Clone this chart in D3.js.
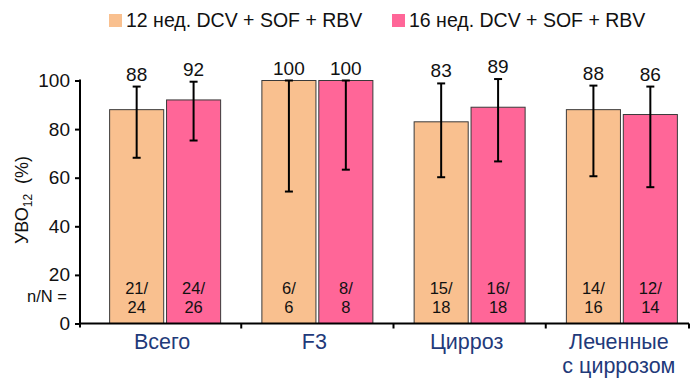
<!DOCTYPE html>
<html>
<head>
<meta charset="utf-8">
<script src="https://cdn.jsdelivr.net/npm/d3@7"></script>
<style>
  html, body { margin: 0; padding: 0; background: #fff; }
  svg { display: block; font-family: "Liberation Sans", Arial, sans-serif; }
</style>
</head>
<body>
<svg id="chart" width="690" height="378"></svg>
<script>
// Категории и серии
const categories = ["Всего", "F3", "Цирроз", "Леченные\nс циррозом"];
const seriesNames = ["12 нед. DCV + SOF + RBV", "16 нед. DCV + SOF + RBV"];
const seriesColors = ["#F9C08F", "#FF6698"];

// УВО12, % (по категориям, для каждой серии)
const svr12wk = [88, 100, 83, 88];
const svr16wk = [92, 100, 89, 86];

// Границы доверительного интервала
const ciLow12 = [68.2, 54.3, 60.2, 60.6];
const ciHigh12 = [97.5, 100, 98.8, 97.9];
const ciLow16 = [75.3, 63.3, 66.7, 56.1];
const ciHigh16 = [99.5, 100, 100.6, 97.5];

// n/N
const nN12 = [["21/", "24"], ["6/", "6"], ["15/", "18"], ["14/", "16"]];
const nN16 = [["24/", "26"], ["8/", "8"], ["16/", "18"], ["12/", "14"]];

const yTicks = [0, 20, 40, 60, 80, 100];

const series = [
  { values: svr12wk, lo: ciLow12, hi: ciHigh12, nN: nN12 },
  { values: svr16wk, lo: ciLow16, hi: ciHigh16, nN: nN16 }
];

const svg = d3.select("#chart");

const y = d3.scaleLinear().domain([0, 100]).range([323.5, 80.5]);
const x = d3.scaleBand().domain(categories).range([89, 698]).padding(0);
const groupW = 111;
const xs = d3.scaleBand().domain([0, 1]).range([0, groupW]).paddingInner(0.05);
const groupLeft = c => x(c) + (x.bandwidth() - groupW) / 2;

// Легенда
const legend = svg.append("g");
[109, 392].forEach((lx, i) => {
  legend.append("rect").attr("x", lx).attr("y", 14).attr("width", 13).attr("height", 13)
    .attr("fill", seriesColors[i]);
  legend.append("text").attr("x", lx + 17).attr("y", 27)
    .attr("font-size", 19.5).attr("fill", "#111").text(seriesNames[i]);
});

// Столбцы
const bars = svg.append("g");
series.forEach((s, si) => {
  categories.forEach((c, ci) => {
    const bx = groupLeft(c) + xs(si);
    const bw = xs.bandwidth();
    bars.append("rect")
      .attr("x", bx).attr("y", y(s.values[ci]))
      .attr("width", bw).attr("height", y(0) - y(s.values[ci]))
      .attr("fill", seriesColors[si])
      .attr("stroke", "#3a3a3a").attr("stroke-width", 1);

    const cx = bx + bw / 2;
    // планка погрешностей
    const eb = bars.append("g").attr("stroke", "#000").attr("stroke-width", 2);
    eb.append("line").attr("x1", cx).attr("x2", cx)
      .attr("y1", y(s.hi[ci])).attr("y2", y(s.lo[ci]));
    [s.hi[ci], s.lo[ci]].forEach(v => {
      eb.append("line").attr("x1", cx - 4).attr("x2", cx + 4)
        .attr("y1", y(v)).attr("y2", y(v));
    });

    // значение над планкой
    bars.append("text").attr("x", cx).attr("y", y(s.hi[ci]) - 6)
      .attr("text-anchor", "middle").attr("font-size", 19).attr("fill", "#111")
      .text(s.values[ci]);

    // n/N внутри столбца
    const t = bars.append("text").attr("text-anchor", "middle")
      .attr("font-size", 16.5).attr("fill", "#111");
    t.append("tspan").attr("x", cx).attr("y", 294).text(s.nN[ci][0]);
    t.append("tspan").attr("x", cx).attr("y", 313).text(s.nN[ci][1]);
  });
});

// Ось Y
const yAxis = svg.append("g").attr("transform", "translate(80,0)")
  .call(d3.axisLeft(y).tickValues(yTicks).tickSize(5).tickPadding(5));
yAxis.select(".domain").remove();
yAxis.selectAll(".tick line").attr("stroke", "#000").attr("stroke-width", 2);
yAxis.selectAll(".tick text").attr("font-size", 19).attr("fill", "#111")
  .attr("font-family", "Liberation Sans, Arial, sans-serif");
svg.append("line").attr("x1", 80).attr("x2", 80).attr("y1", y(100) - 1).attr("y2", y(0) + 4)
  .attr("stroke", "#000").attr("stroke-width", 2);

// Ось X с разделителями групп
svg.append("line").attr("x1", 79).attr("x2", 689).attr("y1", y(0)).attr("y2", y(0))
  .attr("stroke", "#000").attr("stroke-width", 2);
const seps = categories.slice(1).map(c => x(c)).concat([689]);
svg.append("g").selectAll("line").data(seps).join("line")
  .attr("x1", d => d).attr("x2", d => d).attr("y1", y(0)).attr("y2", y(0) + 5)
  .attr("stroke", "#000").attr("stroke-width", 2);

// Подписи категорий
const cat = svg.append("g");
categories.forEach(c => {
  const lines = c.split("\n");
  const t = cat.append("text").attr("text-anchor", "middle").attr("font-size", 21.5)
    .attr("fill", "#1F3A7A");
  lines.forEach((ln, i) => {
    t.append("tspan").attr("x", x(c) + x.bandwidth() / 2 - 3).attr("y", 349 + i * 24).text(ln);
  });
});

// Подпись n/N
svg.append("text").attr("x", 67).attr("y", 302).attr("text-anchor", "end")
  .attr("font-size", 16.5).attr("fill", "#111").text("n/N =");

// Подпись оси Y
const yl = svg.append("text")
  .attr("transform", "translate(28,200) rotate(-90)")
  .attr("text-anchor", "middle").attr("font-size", 18).attr("fill", "#111");
yl.append("tspan").text("УВО");
yl.append("tspan").attr("font-size", 12).attr("dy", 4).text("12");
yl.append("tspan").attr("dy", -4).text("\u00a0 (%)");
</script>
</body>
</html>
